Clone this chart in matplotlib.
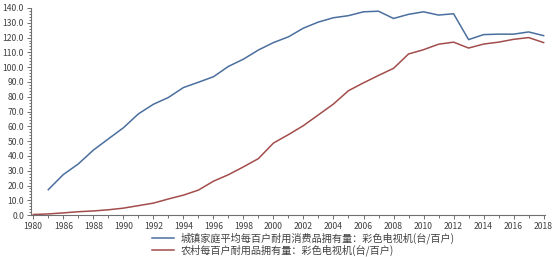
import matplotlib.pyplot as plt
from matplotlib.ticker import MultipleLocator, FixedLocator

plt.rcParams['font.family'] = ['Noto Sans CJK SC', 'DejaVu Sans']

# 年份(横轴为类别轴: 1980 后直接跳到 1985)
years = [1980] + list(range(1985, 2019))

# 城镇家庭平均每百户彩色电视机拥有量(1980 无数据)
urban = [None, 17.2, 27.4, 34.6, 43.9, 51.5, 59.0, 68.4, 74.9, 79.5, 86.2,
         89.8, 93.5, 100.5, 105.4, 111.6, 116.6, 120.5, 126.4, 130.5, 133.4,
         134.8, 137.4, 137.8, 132.9, 135.7, 137.4, 135.2, 136.1, 118.6, 122.0,
         122.3, 122.3, 123.8, 121.3]

# 农村每百户彩色电视机拥有量
rural = [0.4, 0.8, 1.5, 2.3, 2.8, 3.6, 4.7, 6.4, 8.1, 10.9, 13.5,
         16.9, 22.9, 27.3, 32.6, 38.2, 48.7, 54.4, 60.5, 67.8, 75.1,
         84.1, 89.4, 94.4, 99.2, 108.9, 111.8, 115.5, 116.9, 112.9, 115.6,
         116.9, 118.8, 120.0, 116.6]

labels = ['城镇家庭平均每百户耐用消费品拥有量：彩色电视机(台/百户)',
          '农村每百户耐用品拥有量：彩色电视机(台/百户)']

fig = plt.figure(figsize=(5.54, 2.57), dpi=100)
ax = fig.add_axes([0.056, 0.163, 0.928, 0.806])

x = list(range(len(years)))
xu = [i for i, v in zip(x, urban) if v is not None]
yu = [v for v in urban if v is not None]
l1, = ax.plot(xu, yu, color='#4a6f9e', lw=1.1)
l2, = ax.plot(x, rural, color='#a24d4b', lw=1.1)

ax.set_xlim(-0.15, len(years) - 0.9)
ax.set_ylim(0, 140)
ax.xaxis.set_major_locator(FixedLocator(x[::2]))
ax.set_xticklabels([str(y) for y in years[::2]])
ax.xaxis.set_minor_locator(FixedLocator(x))
ax.yaxis.set_major_locator(MultipleLocator(10))
ax.yaxis.set_minor_locator(MultipleLocator(2))
ax.yaxis.set_major_formatter(plt.FuncFormatter(lambda v, p: f'{v:.1f}'))

for s in ['top', 'right']:
    ax.spines[s].set_visible(False)
for s in ['left', 'bottom']:
    ax.spines[s].set_color('#707070')
    ax.spines[s].set_linewidth(0.8)
ax.tick_params(which='both', colors='#707070', labelcolor='#404040',
               labelsize=6.2, width=0.7)
ax.tick_params(which='major', length=3, pad=2)
ax.tick_params(which='minor', length=1.8)

fig.legend([l1, l2], labels, loc='upper left', bbox_to_anchor=(0.265, 0.115),
           frameon=False, fontsize=7.3, handlelength=2.2, labelspacing=0.05,
           borderpad=0, handletextpad=0.6, labelcolor='#404040')

fig.savefig('out.png', dpi=100)
